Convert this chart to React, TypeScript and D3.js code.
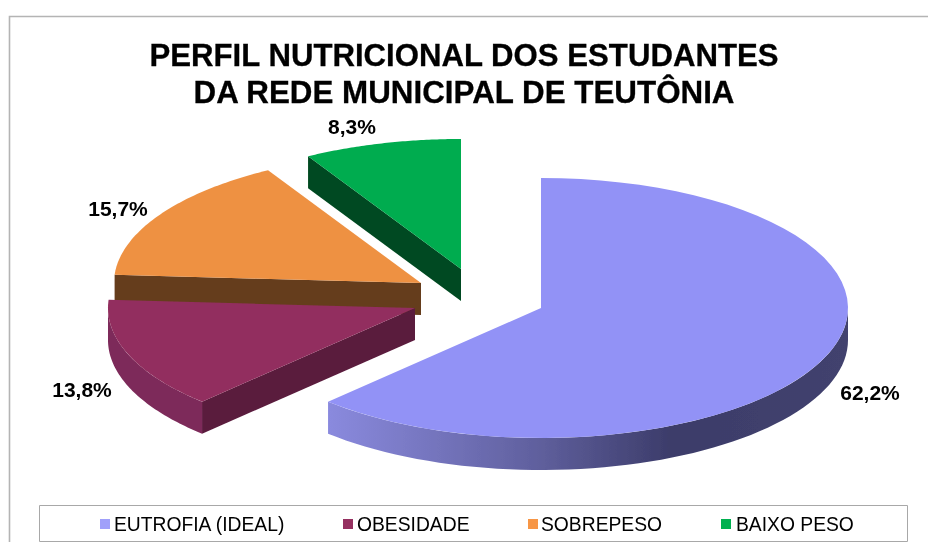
import React from "react";
import * as d3 from "d3";

const categories = ["EUTROFIA (IDEAL)", "OBESIDADE", "SOBREPESO", "BAIXO PESO"];
const values = [62.2, 13.8, 15.7, 8.3];
const valueLabels = ["62,2%", "13,8%", "15,7%", "8,3%"];
const topColors = ["#9292f6", "#922e5e", "#ee9142", "#00ac50"];
const legendColors = ["#a0a0fa", "#953060", "#f79646", "#00b050"];
const faceColors = ["#3c3c6a", "#5a1a3c", "#653c1c", "#004a20"];
const rimColors = ["url(#blueRim)", "#7d2a5a", "#653c1c", "#004a20"];
const apexX = [541, 415, 421, 461];
const apexY = [308, 308, 283, 269];
const labelX = [870, 82, 118, 352];
const labelY = [400, 397, 216, 134];
const legendX = [114, 357, 541, 736];
const swatchX = [100, 343, 528, 721];
const titleLines = ["PERFIL NUTRICIONAL DOS ESTUDANTES", "DA REDE MUNICIPAL DE TEUTÔNIA"];

const RX = 307;
const RY = 130;
const DEPTH = 32;
const FONT = "'Liberation Sans', Arial, sans-serif";

const pie = d3.pie<number>().sort(null).value((d) => d);
const arcs = pie(values);
const xAt = (a: number) => RX * Math.sin(a);
const yAt = (a: number) => -RY * Math.cos(a);
const line = d3.line<[number, number]>();

function ring(a0: number, a1: number, drop: number): [number, number][] {
  return d3.range(0, 61).map((i) => {
    const a = a0 + ((a1 - a0) * i) / 60;
    return [xAt(a), yAt(a) + drop] as [number, number];
  });
}

function topPath(a0: number, a1: number) {
  return line([[0, 0], ...ring(a0, a1, 0)]) + "Z";
}
function rimPath(a0: number, a1: number) {
  return line([...ring(a0, a1, 0), ...ring(a1, a0, DEPTH)]) + "Z";
}
function facePath(a: number) {
  return (
    line([
      [0, 0],
      [xAt(a), yAt(a)],
      [xAt(a), yAt(a) + DEPTH],
      [0, DEPTH],
    ]) + "Z"
  );
}

const drawOrder = [3, 2, 1, 0];

export default function App() {
  return (
    <svg
      width={928}
      height={542}
      style={{ position: "absolute", left: 0, top: 0, background: "#fff" }}
      fontFamily={FONT}
    >
      <defs>
        <linearGradient id="blueRim" gradientUnits="userSpaceOnUse" x1={-213} x2={307} y1={0} y2={0}>
          <stop offset="0" stopColor="#8a8ade" />
          <stop offset="0.4" stopColor="#60609e" />
          <stop offset="0.66" stopColor="#3c3c6a" />
          <stop offset="1" stopColor="#42426e" />
        </linearGradient>
        <filter id="soft" x="-5%" y="-5%" width="110%" height="110%">
          <feGaussianBlur stdDeviation="0.5" />
        </filter>
        <filter id="softText" x="-5%" y="-20%" width="110%" height="140%">
          <feGaussianBlur stdDeviation="0.3" />
        </filter>
      </defs>
      <rect x={0} y={0} width={928} height={542} fill="#fff" />
      <path d="M9.5,542V16.5H928" fill="none" stroke="#b4b4b4" strokeWidth={1.6} />
      {titleLines.map((t, i) => (
        <text
          key={t}
          x={464}
          y={66 + i * 37}
          textAnchor="middle"
          fontSize={32}
          fontWeight={700}
          fill="#000"
          stroke="#000"
          strokeWidth={0.3}
          textLength={i === 0 ? 629 : 541}
          lengthAdjust="spacingAndGlyphs"
          filter="url(#softText)"
        >
          {t}
        </text>
      ))}
      {drawOrder.map((i) => {
        const d = arcs[i];
        const rimFrom = Math.max(d.startAngle, Math.PI / 2);
        const rimTo = Math.min(d.endAngle, (3 * Math.PI) / 2);
        return (
          <g key={categories[i]} transform={`translate(${apexX[i]},${apexY[i]})`} filter="url(#soft)">
            {i !== 0 && <path d={facePath(d.startAngle)} fill={faceColors[i]} />}
            {rimTo > rimFrom && <path d={rimPath(rimFrom, rimTo)} fill={rimColors[i]} />}
            <path d={topPath(d.startAngle, d.endAngle)} fill={topColors[i]} />
          </g>
        );
      })}
      {valueLabels.map((t, i) => (
        <text
          key={t}
          x={labelX[i]}
          y={labelY[i]}
          textAnchor="middle"
          fontSize={21}
          fontWeight={700}
          fill="#000"
          filter="url(#softText)"
        >
          {t}
        </text>
      ))}
      <path d="M39.5,541.5V505.5H907.5V541.5H39.5" fill="none" stroke="#a8a8a8" strokeWidth={1} />
      {categories.map((c, i) => (
        <g key={c}>
          <rect x={swatchX[i]} y={519} width={10} height={10} fill={legendColors[i]} />
          <text x={legendX[i]} y={531} fontSize={19.3} fill="#000" filter="url(#softText)">
            {c}
          </text>
        </g>
      ))}
    </svg>
  );
}
